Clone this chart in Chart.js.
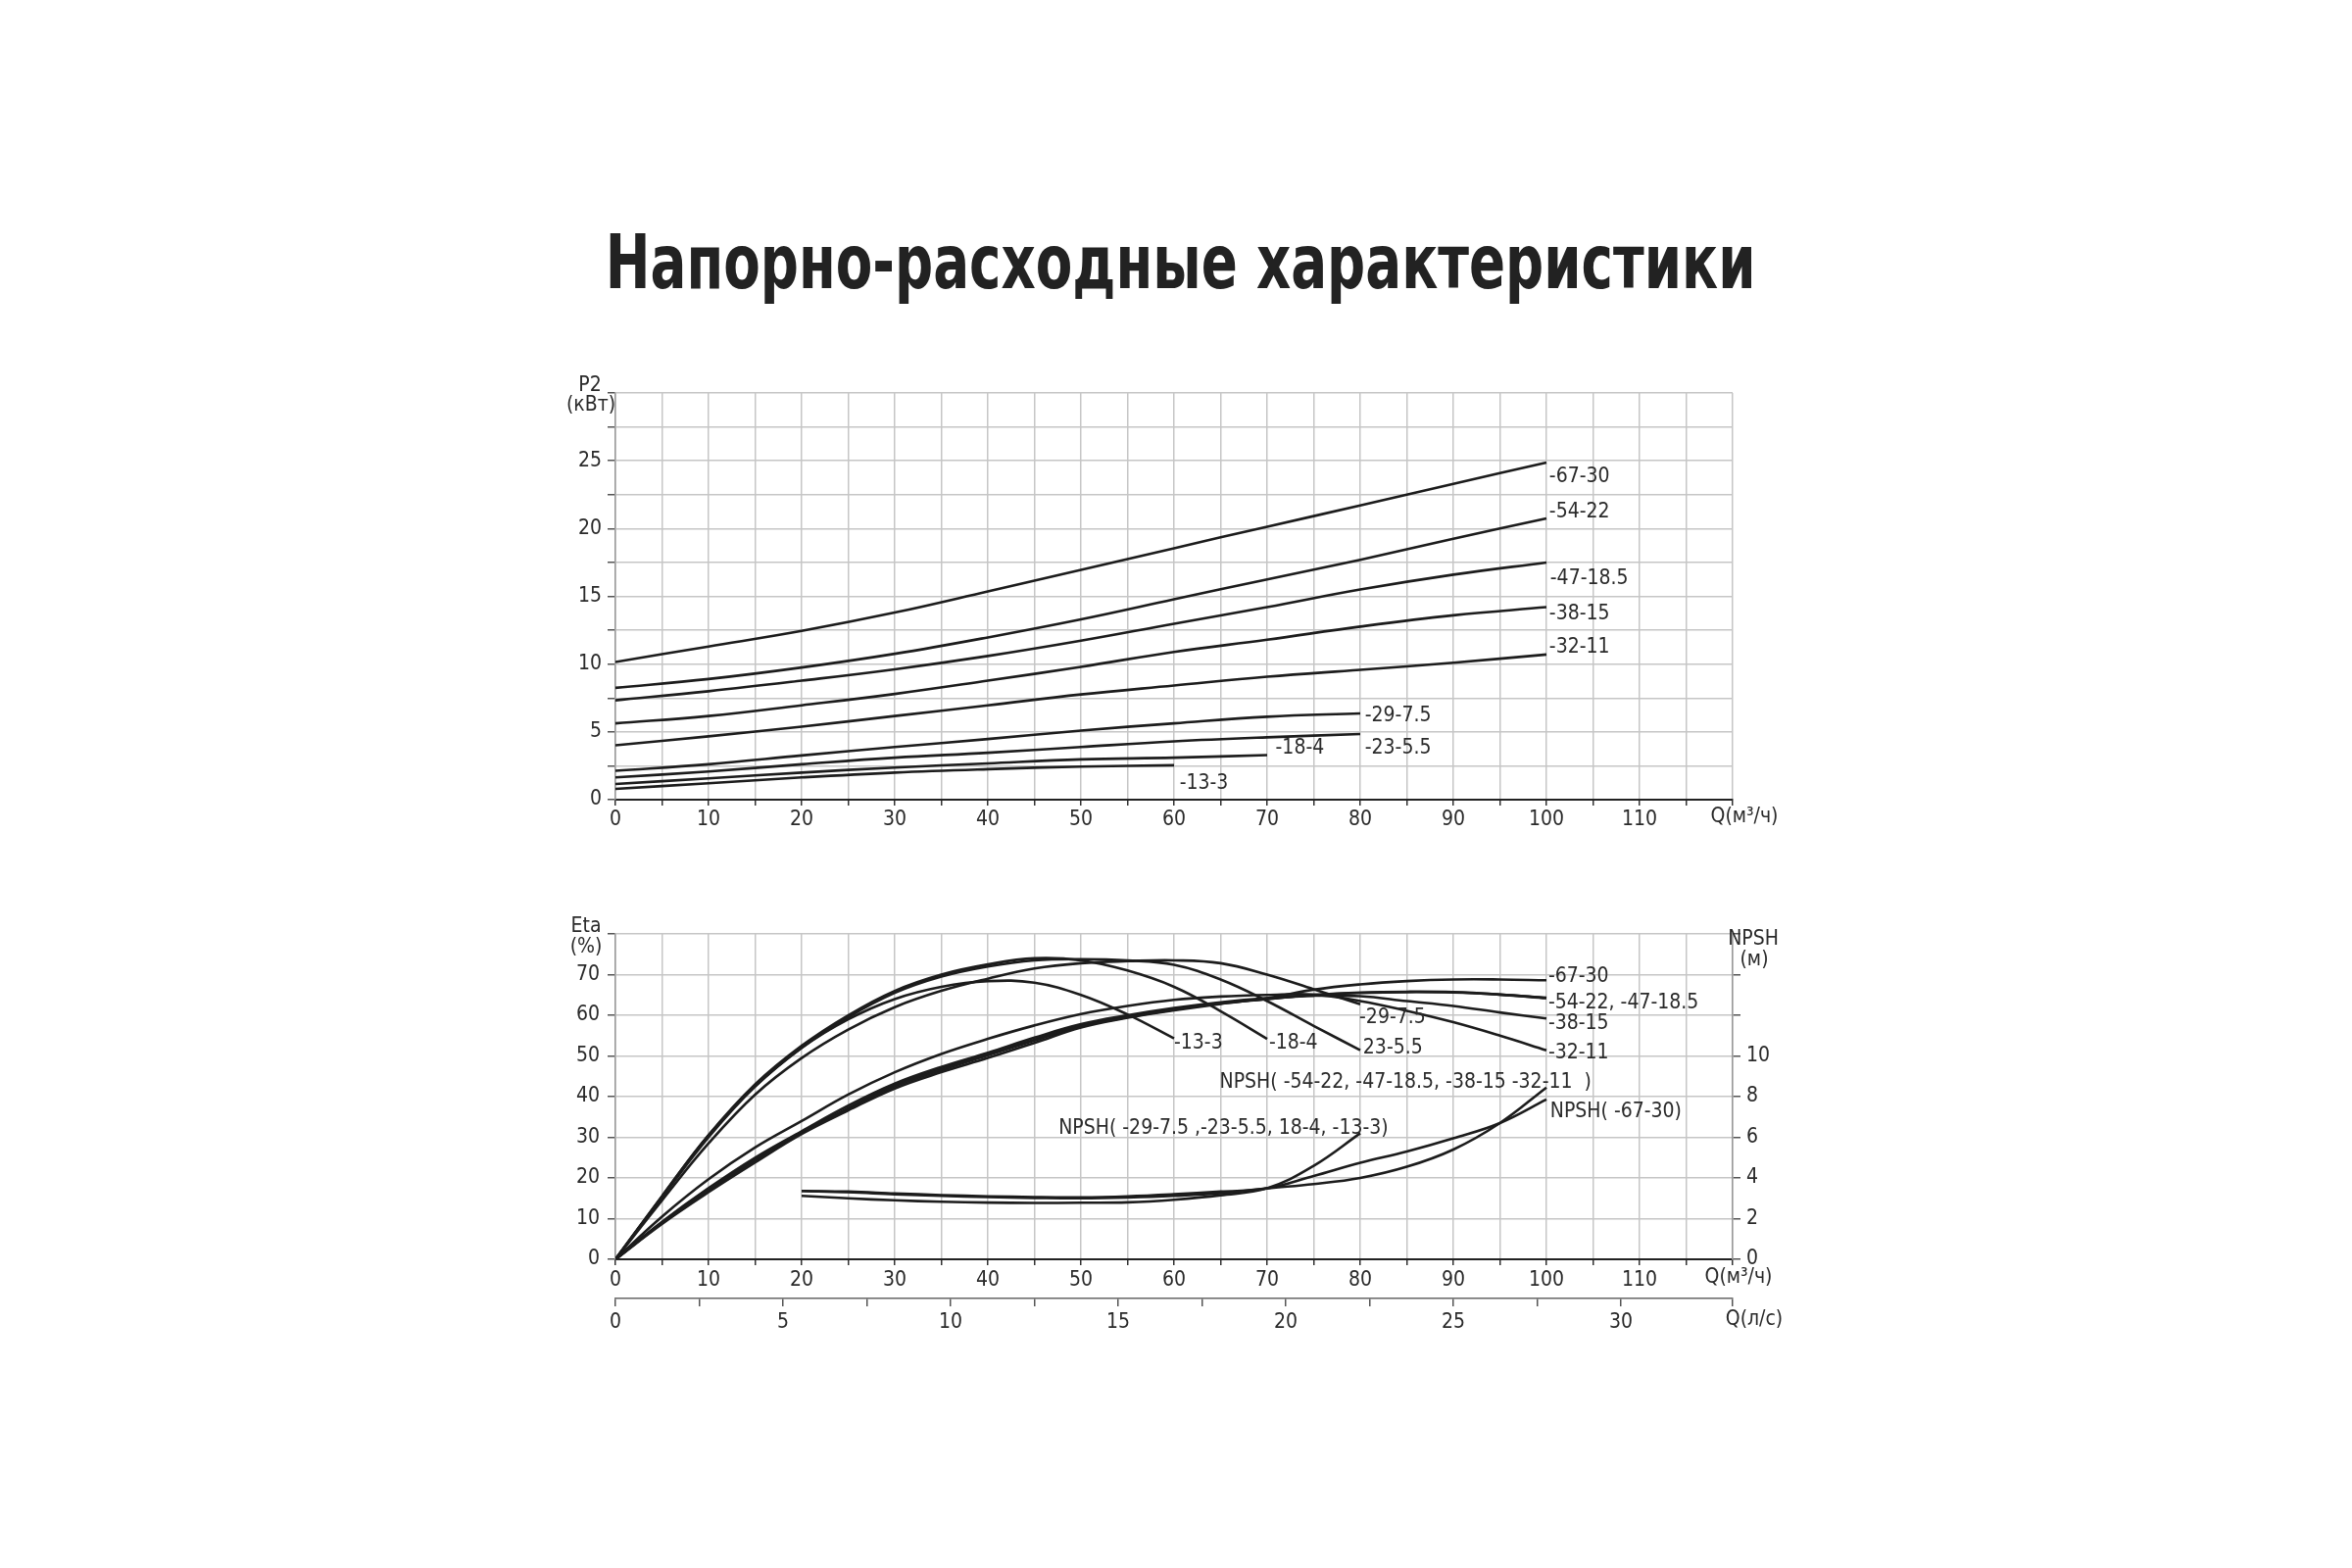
<!DOCTYPE html>
<html><head><meta charset="utf-8">
<script src="https://cdn.jsdelivr.net/npm/chart.js@4.4.1/dist/chart.umd.min.js"></script>
<style>
html,body{margin:0;padding:0;background:#fff;width:2400px;height:1600px;overflow:hidden;}
#title{position:absolute;left:0;width:2410px;top:230px;line-height:76px;text-align:center;white-space:nowrap;}
#title span{display:inline-block;transform:scaleX(0.8);transform-origin:center;font-family:'Liberation Sans Narrow','DejaVu Sans Condensed',sans-serif;font-weight:bold;font-size:76px;color:#222;}
canvas{position:absolute;}
#c1{left:500px;top:360px;}
#c2{left:500px;top:900px;}
</style></head><body>
<div id="title"><span>Напорно-расходные характеристики</span></div>
<canvas id="c1" width="1400" height="500"></canvas>
<canvas id="c2" width="1400" height="480"></canvas>
<script>
// ---------- DATA: power P2 (kW) vs Q (m3/h) ----------
const qP100 = [0,10,20,30,40,50,60,70,80,90,100];
const qP80  = [0,10,20,30,40,50,60,70,80];
const qP70  = [0,10,20,30,40,50,60,70];
const qP60  = [0,10,20,30,40,50,60];
const p2_67_30  = [10.16,11.3,12.45,13.8,15.36,16.95,18.55,20.14,21.7,23.3,24.86];
const p2_54_22  = [8.25,8.9,9.75,10.76,11.97,13.3,14.78,16.25,17.7,19.25,20.75];
const p2_47_185 = [7.33,8.0,8.78,9.62,10.6,11.73,12.98,14.2,15.5,16.6,17.5];
const p2_38_15  = [5.63,6.17,6.96,7.8,8.78,9.8,10.9,11.8,12.77,13.6,14.2];
const p2_32_11  = [4.01,4.67,5.39,6.17,6.96,7.76,8.42,9.07,9.58,10.1,10.71];
const p2_29_75  = [2.13,2.61,3.26,3.89,4.47,5.1,5.63,6.12,6.36];
const p2_23_55  = [1.64,2.08,2.61,3.1,3.46,3.89,4.3,4.6,4.84];
const p2_18_4   = [1.16,1.57,2.0,2.37,2.68,2.97,3.1,3.29];
const p2_13_3   = [0.8,1.21,1.64,2.0,2.25,2.44,2.54];
const p2Names   = ['-67-30','-54-22','-47-18.5','-38-15','-32-11','-29-7.5','-23-5.5','-18-4','-13-3'];
const p2LabelQ  = [100.3,100.3,100.4,100.3,100.3,80.5,80.5,70.9,60.6];
const p2LabelV  = [23.8,21.2,16.3,13.7,11.25,6.2,3.77,3.77,1.2];

// ---------- DATA: efficiency Eta (%) vs Q (m3/h) ----------
const qE100 = [0,5,10,15,20,25,30,35,40,45,50,55,60,65,70,75,80,85,90,95,100];
const qE80  = [0,5,10,15,20,25,30,35,40,45,50,55,60,65,70,75,80];
const qE70  = [0,5,10,15,20,25,30,35,40,45,50,55,60,65,70];
const qE60  = [0,5,10,15,20,25,30,35,40,45,50,55,60];
const eta_67_30  = [0,8.7,16.5,23.8,30.8,36.6,42,46,49.5,53.2,57,59.4,61.2,62.8,64.2,66.3,67.6,68.4,68.8,68.8,68.6];
const eta_54_22  = [0,8.9,17,24.3,31,37,42.5,46.5,50.2,53.8,57.3,59.5,61.4,62.9,64,65,65.6,65.8,65.7,65.1,64.2];
const eta_47_185 = [0,9,17.2,24.5,31.2,37.2,42.8,46.8,50.4,54,57.5,59.7,61.5,63,64,65,65.5,65.7,65.6,65.1,64.3];
const eta_38_15  = [0,9.2,17.5,25,31.5,37.8,43.2,47.3,50.8,54.5,57.8,60,61.8,63.2,64.2,64.8,64.7,63.5,62.3,60.7,59.2];
const eta_32_11  = [0,10.5,19.7,27.5,34,40.5,46,50.5,54.2,57.5,60.3,62.3,63.8,64.6,65,65.1,63.5,61.1,58.3,55,51.4];
const eta_29_75  = [0,14.5,28.5,40.5,49.5,56.5,62,66,69,71.5,72.8,73.3,73.5,72.8,70,66.4,62.7];
const eta_23_55  = [0,15.2,30,42.5,52,59.5,65.5,69.5,72,73.5,73.8,73.5,72.4,68.8,63.5,57.4,51.4];
const eta_18_4   = [0,15.5,30.5,43,52.5,60,66,70,72.5,74,73.5,71,67,61,54.2];
const eta_13_3   = [0,15.5,30.5,42.5,52,59,64,67,68.4,68,65,60.2,54.3];

// ---------- DATA: NPSH (m) vs Q (m3/h) ----------
const qN100 = [20,25,30,35,40,45,50,55,60,65,70,75,80,85,90,95,100];
const qN80  = [20,25,30,35,40,45,50,55,60,65,70,75,80];
const npshSmall = [3.12,3.0,2.9,2.83,2.79,2.77,2.78,2.8,2.93,3.15,3.5,4.6,6.2];
const npshLarge = [3.36,3.3,3.2,3.12,3.06,3.02,3.0,3.04,3.12,3.25,3.49,3.7,4.0,4.55,5.4,6.7,8.45];
const npsh67_30 = [3.36,3.33,3.24,3.16,3.1,3.06,3.05,3.1,3.2,3.33,3.49,4.1,4.75,5.3,5.95,6.7,7.86];

const etaNames  = ['-67-30','-54-22, -47-18.5','-38-15','-32-11','-29-7.5','23-5.5','-18-4','-13-3'];
const etaLabelQ = [100.2,100.2,100.2,100.2,79.9,80.3,70.2,60.0];
const etaLabelV = [69.4,63.1,57.9,50.6,59.5,51.8,53.2,53.2];
const npshNames  = ['NPSH( -54-22, -47-18.5, -38-15 -32-11  )','NPSH( -29-7.5 ,-23-5.5, 18-4, -13-3)','NPSH( -67-30)'];
const npshLabelQ = [64.9,47.6,100.4];
const npshLabelV = [8.69,6.43,7.25];

// ---------- AXES ----------
const qTicksMax = 120;
const lsMax = 120/3.6;

// ---------- STYLE ----------
const FONT = "'Liberation Sans Narrow','DejaVu Sans Condensed',sans-serif";
const TXT = '#2a2a2a';
const GRID = '#c6c6c6';
const LINE = '#1c1c1c';

function pts(xs, ys){ return ys.map((v,i)=>({x:xs[i], y:v})); }
function ds(xs, ys, axis){
  return {data:pts(xs,ys), borderColor:LINE, borderWidth:2.6, pointRadius:0, fill:false,
          tension:0.4, yAxisID: axis||'y'};
}

const textPlugin = {
  id:'textPlugin',
  afterDraw(chart){
    const o = chart.options.plugins.textPlugin; if(!o) return;
    const ctx = chart.ctx; const ca = chart.chartArea;
    ctx.save();
    ctx.fillStyle = TXT;
    ctx.font = '21px ' + FONT;
    ctx.textBaseline = 'middle';
    ctx.textAlign = 'left';
    (o.items||[]).forEach(it=>{
      const sx = chart.scales.x, sy = chart.scales[it.axis||'y'];
      ctx.fillText(it.t, sx.getPixelForValue(it.q), sy.getPixelForValue(it.v));
    });
    ctx.textAlign = 'center';
    (o.titles||[]).forEach(t=>{
      const x = t.side==='left' ? ca.left + t.dx : ca.right + t.dx;
      const y = t.ref==='top' ? ca.top + t.dy : ca.bottom + t.dy;
      ctx.fillText(t.t, x, y);
    });
    ctx.restore();
  }
};

const tickFont = {family:FONT, size:21};

// ---------- CHART 1: P2 ----------
const p2Series = [[qP100,p2_67_30],[qP100,p2_54_22],[qP100,p2_47_185],[qP100,p2_38_15],[qP100,p2_32_11],
                  [qP80,p2_29_75],[qP80,p2_23_55],[qP70,p2_18_4],[qP60,p2_13_3]];
new Chart(document.getElementById('c1'), {
  type:'line',
  data:{datasets:p2Series.map(s=>ds(s[0],s[1]))},
  options:{
    responsive:false, animation:false, devicePixelRatio:1,
    layout:{padding:{top:41,right:132,bottom:0,left:0}},
    plugins:{legend:{display:false}, tooltip:{enabled:false},
      textPlugin:{
        items:p2Names.map((t,i)=>({t:t,q:p2LabelQ[i],v:p2LabelV[i]})),
        titles:[{t:'P2',side:'left',dx:-26,ref:'top',dy:-7},{t:'(кВт)',side:'left',dx:-25,ref:'top',dy:13},
                {t:'Q(м³/ч)',side:'right',dx:12,ref:'bottom',dy:18}]
      }},
    scales:{
      x:{type:'linear',min:0,max:qTicksMax,
         ticks:{stepSize:5,autoSkip:false,maxRotation:0,padding:2,color:TXT,font:tickFont,
                callback:v=>(v%10===0 && v<qTicksMax)?String(v):''},
         grid:{color:GRID,lineWidth:1.5,tickLength:6,tickColor:'#333'},
         border:{color:'#222',width:2},
         afterFit:s=>{s.height=44;}},
      y:{type:'linear',min:0,max:30,
         ticks:{stepSize:2.5,autoSkip:false,padding:6,color:TXT,font:tickFont,
                callback:v=>(v%5===0 && v<30)?String(v):''},
         grid:{color:GRID,lineWidth:1.5,tickLength:8,tickColor:'#555'},
         border:{color:'#999',width:1.5},
         afterFit:s=>{s.width=128;}}
    }
  },
  plugins:[textPlugin]
});

// ---------- CHART 2: Eta + NPSH ----------
const etaSeries = [[qE100,eta_67_30],[qE100,eta_54_22],[qE100,eta_47_185],[qE100,eta_38_15],[qE100,eta_32_11],
                   [qE80,eta_29_75],[qE80,eta_23_55],[qE70,eta_18_4],[qE60,eta_13_3]];
const npshSeries = [[qN80,npshSmall],[qN100,npshLarge],[qN100,npsh67_30]];
new Chart(document.getElementById('c2'), {
  type:'line',
  data:{datasets:etaSeries.map(s=>ds(s[0],s[1])).concat(npshSeries.map(s=>ds(s[0],s[1],'yR')))},
  options:{
    responsive:false, animation:false, devicePixelRatio:1,
    layout:{padding:{top:53,right:0,bottom:0,left:0}},
    plugins:{legend:{display:false}, tooltip:{enabled:false},
      textPlugin:{
        items:etaNames.map((t,i)=>({t:t,q:etaLabelQ[i],v:etaLabelV[i]}))
              .concat(npshNames.map((t,i)=>({t:t,q:npshLabelQ[i],v:npshLabelV[i],axis:'yR'}))),
        titles:[{t:'Eta',side:'left',dx:-30,ref:'top',dy:-7},{t:'(%)',side:'left',dx:-30,ref:'top',dy:14},
                {t:'NPSH',side:'right',dx:21,ref:'top',dy:6},{t:'(м)',side:'right',dx:22,ref:'top',dy:27},
                {t:'Q(м³/ч)',side:'right',dx:6,ref:'bottom',dy:19},
                {t:'Q(л/с)',side:'right',dx:22,ref:'bottom',dy:62}]
      }},
    scales:{
      x:{type:'linear',min:0,max:qTicksMax,weight:0,
         ticks:{stepSize:5,autoSkip:false,maxRotation:0,padding:3,color:TXT,font:tickFont,
                callback:v=>(v%10===0 && v<qTicksMax)?String(v):''},
         grid:{color:GRID,lineWidth:1.5,tickLength:6,tickColor:'#333'},
         border:{color:'#222',width:2},
         afterFit:s=>{s.height=40;}},
      x2:{type:'linear',position:'bottom',min:0,max:lsMax,weight:1,
         ticks:{stepSize:2.5,autoSkip:false,maxRotation:0,padding:4,color:TXT,font:tickFont,
                callback:v=>(Math.abs(v%5)<1e-6)?String(v):''},
         grid:{drawOnChartArea:false,tickLength:8,tickColor:'#555',lineWidth:1.5},
         border:{color:'#666',width:1.5},
         afterFit:s=>{s.height=55;}},
      y:{type:'linear',min:0,max:80,
         ticks:{stepSize:10,autoSkip:false,padding:8,color:TXT,font:tickFont,
                callback:v=>(v<80)?String(v):''},
         grid:{color:GRID,lineWidth:1.5,tickLength:8,tickColor:'#555'},
         border:{color:'#999',width:1.5},
         afterFit:s=>{s.width=128;}},
      yR:{type:'linear',position:'right',min:0,max:16,
         ticks:{stepSize:2,autoSkip:false,padding:6,color:TXT,font:tickFont,
                callback:v=>(v<=10)?String(v):''},
         grid:{drawOnChartArea:false,tickLength:8,tickColor:'#555',lineWidth:1.5},
         border:{color:'#999',width:1.5},
         afterFit:s=>{s.width=132;}}
    }
  },
  plugins:[textPlugin]
});
</script>
</body></html>
